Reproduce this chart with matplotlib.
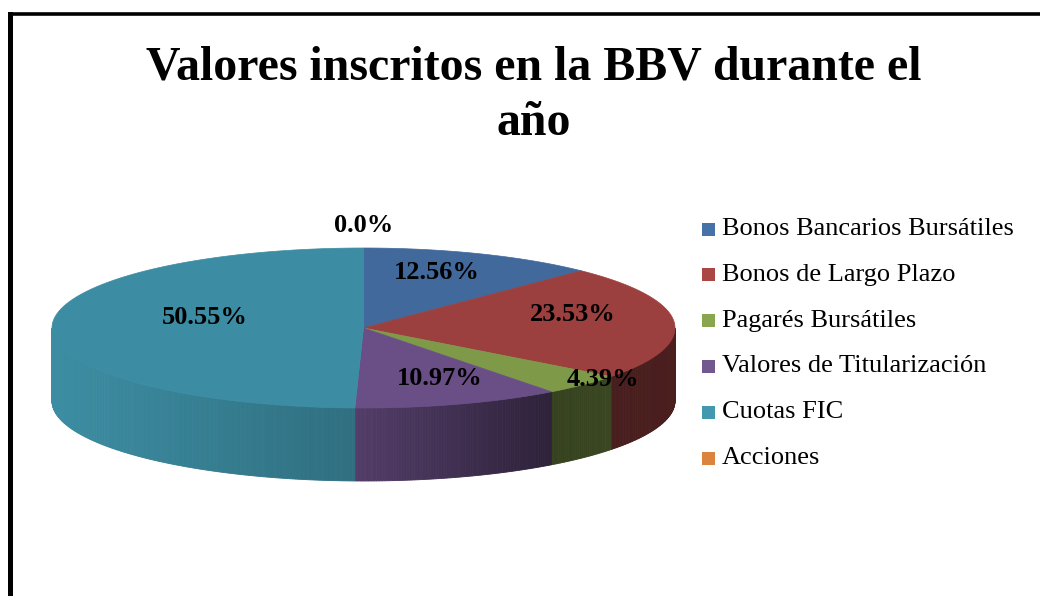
import matplotlib
matplotlib.use("Agg")
import matplotlib.pyplot as plt
import matplotlib.colors as mcolors
from matplotlib.patches import Polygon, Rectangle
import numpy as np

# datos del gráfico
categorias = ['Bonos Bancarios Bursátiles', 'Bonos de Largo Plazo', 'Pagarés Bursátiles',
              'Valores de Titularización', 'Cuotas FIC', 'Acciones']
porcentajes = [12.56, 23.53, 4.39, 10.97, 50.55, 0.0]
etiquetas = ['12.56%', '23.53%', '4.39%', '10.97%', '50.55%', '0.0%']

colores_cara = ['#41699B', '#9C403F', '#7E9A48', '#6A4E86', '#3C8DA3', '#DB843D']
colores_leyenda = ['#4572A7', '#AA4643', '#89A54E', '#71588F', '#4198AF', '#DB843D']

titulo = ['Valores inscritos en la BBV durante el', 'año']

# geometría del pastel (en píxeles de la figura)
cx, cy = 363.5, 328.0
a, b = 311.5, 80.0
prof = 73.0
r_etiqueta = [0.62, 0.675, 1.09, 0.80, 0.51, 1.15]

fig = plt.figure(figsize=(10.4, 5.96), dpi=100)
ax = fig.add_axes([0, 0, 1, 1])
ax.set_xlim(0, 1040)
ax.set_ylim(596, 0)
ax.axis('off')

# marco del gráfico
ax.plot([10, 10], [13.5, 600], color='black', lw=3.6, solid_capstyle='projecting')
ax.plot([10, 1045], [13.5, 13.5], color='black', lw=2.6, solid_capstyle='projecting')

for k, linea in enumerate(titulo):
    ax.text(534, 80 + k * 55, linea, ha='center', va='baseline', fontsize=34.5,
            fontweight='bold', family='Liberation Serif')


def punto(theta, dz=0.0):
    # theta en grados, en sentido horario desde arriba
    t = np.radians(theta)
    return cx + a * np.sin(t), cy - b * np.cos(t) + dz


def sombra(x):
    u = (x - (cx - a)) / (2 * a)
    return np.interp(u, [0.0, 0.48, 0.8, 1.0], [1.0, 0.79, 0.43, 0.48])


fr = np.array(porcentajes) / sum(porcentajes)
bordes = np.concatenate([[0], np.cumsum(fr) * 360])

# caras laterales (solo la mitad frontal, 90° a 270°)
for i, col in enumerate(colores_cara):
    t1, t2 = bordes[i], bordes[i + 1]
    lo, hi = max(t1, 90), min(t2, 270)
    if hi <= lo:
        continue
    rgb = np.array(mcolors.to_rgb(col))
    pasos = np.linspace(lo, hi, max(2, int((hi - lo) * 2) + 1))
    for s1, s2 in zip(pasos[:-1], pasos[1:]):
        x1, y1 = punto(s1)
        x2, y2 = punto(s2)
        c = np.clip(rgb * sombra((x1 + x2) / 2), 0, 1)
        ax.add_patch(Polygon([(x1, y1), (x2, y2), (x2, y2 + prof), (x1, y1 + prof)],
                             closed=True, fc=c, ec=c, lw=0.6))

# caras superiores
for i, col in enumerate(colores_cara):
    t1, t2 = bordes[i], bordes[i + 1]
    if t2 - t1 <= 0:
        continue
    th = np.linspace(t1, t2, max(2, int((t2 - t1) * 2) + 1))
    xs, ys = punto(th)
    verts = [(cx, cy)] + list(zip(xs, ys))
    ax.add_patch(Polygon(verts, closed=True, fc=col, ec=col, lw=0.5))

# etiquetas de porcentaje
for i, txt in enumerate(etiquetas):
    mid = (bordes[i] + bordes[i + 1]) / 2
    if fr[i] == 0:
        mid = bordes[i]
    t = np.radians(mid)
    f = r_etiqueta[i]
    x = cx + f * a * np.sin(t)
    y = cy - f * b * np.cos(t) - 10
    ax.text(x, y, txt, ha='center', va='center', fontsize=19, fontweight='bold',
            family='Liberation Serif')

# leyenda
for i, (nom, col) in enumerate(zip(categorias, colores_leyenda)):
    y = 229 + i * 45.8
    ax.add_patch(Rectangle((702, y - 6.5), 13, 13, fc=col, ec='none'))
    ax.text(722, y, nom, ha='left', va='center', fontsize=19, family='Liberation Serif')

fig.savefig('out.png', dpi=100)
